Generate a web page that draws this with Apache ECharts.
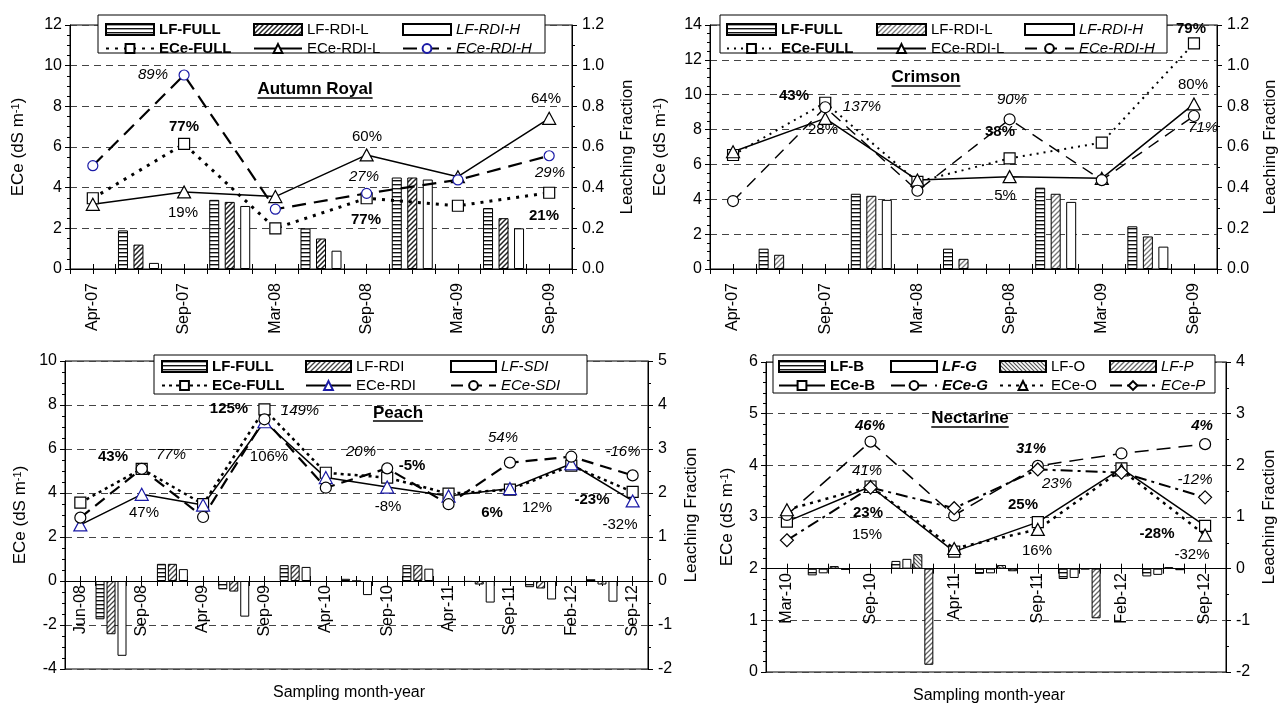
<!DOCTYPE html>
<html><head><meta charset="utf-8">
<script src="https://cdn.jsdelivr.net/npm/echarts@6/dist/echarts.min.js"></script>
<style>html,body{margin:0;padding:0;background:#fff}#c{width:1280px;height:707px}</style>
</head><body><div id="c"></div>
<script>
// ---------------- DATA ----------------
const arDates = ['Apr-07','Sep-07','Mar-08','Sep-08','Mar-09','Sep-09'];
const arEceFull = [3.48, 6.15, 2.00, 3.48, 3.11, 3.75];
const arEceRdiL = [3.18, 3.79, 3.56, 5.61, 4.54, 7.41];
const arEceRdiH = [5.08, 9.54, 2.94, 3.72, 4.38, 5.57];
const arLfFull = [0.19, 0.34, 0.20, 0.45, 0.30];
const arLfRdiL = [0.12, 0.33, 0.15, 0.45, 0.25];
const arLfRdiH = [0.03, 0.31, 0.09, 0.44, 0.20];

const crDates = ['Apr-07','Sep-07','Mar-08','Sep-08','Mar-09','Sep-09'];
const crEceFull = [6.54, 9.54, 5.00, 6.35, 7.25, 12.95];
const crEceRdiL = [6.73, 8.64, 5.10, 5.30, 5.20, 9.47];
const crEceRdiH = [3.90, 9.28, 4.49, 8.59, 5.10, 8.78];
const crLfFull = [0.10, 0.37, 0.10, 0.40, 0.21];
const crLfRdiL = [0.07, 0.36, 0.05, 0.37, 0.16];
const crLfRdiH = [null, 0.34, null, 0.33, 0.11];

const peDates = ['Jun-08','Sep-08','Apr-09','Sep-09','Apr-10','Sep-10','Apr-11','Sep-11','Feb-12','Sep-12'];
const peEceFull = [3.56, 5.10, 3.49, 7.80, 4.92, 4.70, 3.97, 4.15, 5.24, 4.05];
const peEceRdi  = [2.55, 3.94, 3.45, 7.24, 4.70, 4.27, 3.86, 4.20, 5.33, 3.64];
const peEceSdi  = [2.88, 5.10, 2.91, 7.35, 4.24, 5.12, 3.49, 5.38, 5.65, 4.80];
const peLfFull = [-0.87, 0.39, -0.19, 0.36, 0.05, 0.36, -0.02, -0.14, 0.04];
const peLfRdi  = [-1.21, 0.39, -0.24, 0.36, 0.00, 0.36, -0.08, -0.17, -0.08];
const peLfSdi  = [-1.70, 0.27, -0.81, 0.32, -0.32, 0.28, -0.49, -0.42, -0.47];

const neDates = ['Mar-10','Sep-10','Apr-11','Sep-11','Feb-12','Sep-12'];
const neEceB = [2.91, 3.59, 2.33, 2.90, 3.94, 2.83];
const neEceG = [3.04, 4.46, 3.03, 3.99, 4.23, 4.41];
const neEceO = [3.14, 3.59, 2.39, 2.76, 3.91, 2.65];
const neEceP = [2.55, 3.57, 3.17, 3.92, 3.86, 3.38];
const neLfB = [-0.13, 0.15, -0.10, -0.20, -0.15];
const neLfG = [-0.09, 0.19, -0.09, -0.18, -0.12];
const neLfO = [0.05, 0.28, 0.07, -0.01, 0.03];
const neLfP = [-0.02, -1.86, -0.05, -0.96, -0.03];

// annotation texts: [panel, text, style, x, y]
const notes = [
  [0,'89%','i',153,75],[0,'77%','b',184,127],[0,'19%','n',183,213],[0,'60%','n',367,137],
  [0,'27%','i',364,177],[0,'77%','b',366,220],[0,'64%','n',546,99],[0,'29%','i',550,173],[0,'21%','b',544,216],
  [1,'43%','b',794,96],[1,'137%','i',862,107],[1,'28%','n',823,130],[1,'90%','i',1012,100],
  [1,'38%','b',1000,132],[1,'5%','n',1005,196],[1,'79%','b',1191,29],[1,'80%','n',1193,85],[1,'71%','i',1203,128],
  [2,'43%','b',113,457],[2,'77%','i',171,455],[2,'47%','n',144,513],[2,'125%','b',229,409],[2,'149%','i',300,411],
  [2,'106%','n',269,457],[2,'20%','i',361,452],[2,'-5%','b',412,466],[2,'-8%','n',388,507],[2,'54%','i',503,438],
  [2,'6%','b',492,513],[2,'12%','n',537,508],[2,'-23%','b',592,500],[2,'-16%','i',623,452],[2,'-32%','n',620,525],
  [3,'46%','bi',870,426],[3,'41%','i',867,471],[3,'23%','b',868,513],[3,'15%','n',867,535],[3,'31%','bi',1031,449],
  [3,'23%','i',1057,484],[3,'25%','b',1023,505],[3,'16%','n',1037,551],[3,'4%','bi',1202,426],[3,'-12%','i',1195,480],
  [3,'-28%','b',1157,534],[3,'-32%','n',1192,555]
];

// ---------------- STYLE HELPERS ----------------
const FONT = '"Liberation Sans", Arial, Helvetica, sans-serif';
function mkCanvas(w,h,draw){const c=document.createElement('canvas');c.width=w;c.height=h;const g=c.getContext('2d');g.fillStyle='#fff';g.fillRect(0,0,w,h);draw(g,w,h);return c;}
function stripes(color){return {image: mkCanvas(8,4,(g)=>{g.fillStyle=color;g.fillRect(0,0,8,1.4);}), repeat:'repeat'};}
function hatch(color, back, step, lw){
  return {image: mkCanvas(step,step,(g,w,h)=>{g.strokeStyle=color;g.lineWidth=lw||1.3;g.beginPath();
    if(!back){g.moveTo(-1,h+1);g.lineTo(w+1,-1);g.moveTo(-2,2);g.lineTo(2,-2);g.moveTo(w-2,h+2);g.lineTo(w+2,h-2);}
    else {g.moveTo(-1,-1);g.lineTo(w+1,h+1);g.moveTo(w-2,-2);g.lineTo(w+2,2);g.moveTo(-2,h-2);g.lineTo(2,h+2);}
    g.stroke();}), repeat:'repeat'};
}
const WHITE = '#fff';
function txtStyle(s){return {fontWeight: s.indexOf('b')>=0?'bold':'normal', fontStyle: s.indexOf('i')>=0?'italic':'normal'};}
function fontStr(s,size){const t=txtStyle(s);return t.fontStyle+' '+t.fontWeight+' '+size+'px '+FONT;}

const panels = [
 { dates: arDates, grid:{left:70,top:25,width:502,height:244}, rightFirst:false,
   yL:{min:0,max:12,interval:2,minor:4,gap:43}, yR:{min:0,max:1.2,interval:0.2,minor:2,dec:1,gap:47},
   labelMargin:14, barWidth:10, barGap:'55%',
   bars:[{name:'LF-FULL',data:arLfFull,fill:stripes('#111'),lg:'b'},
         {name:'LF-RDI-L',data:arLfRdiL,fill:hatch('#222',false,5,1.5),lg:'n'},
         {name:'LF-RDI-H',data:arLfRdiH,fill:WHITE,lg:'i'}],
   lines:[{name:'ECe-FULL',data:arEceFull,symbol:'rect',size:[11,11],type:[3,6],width:3,border:'#000',lg:'b'},
          {name:'ECe-RDI-L',data:arEceRdiL,symbol:'triangle',size:[13,12],type:'solid',width:1.5,border:'#000',lg:'n'},
          {name:'ECe-RDI-H',data:arEceRdiH,symbol:'circle',size:10,type:[14,8],width:2.2,border:'#1a1aa6',lg:'i'}],
   legX:[105,253,402], legTop:22, iconW:48, box:[98,15,545,53],
   title:['Autumn Royal',315,89,98] },
 { dates: crDates, grid:{left:710,top:25,width:507,height:244}, rightFirst:false,
   yL:{min:0,max:14,interval:2,minor:4,gap:41}, yR:{min:0,max:1.2,interval:0.2,minor:2,dec:1,gap:45},
   labelMargin:14, barWidth:10, barGap:'55%',
   bars:[{name:'LF-FULL',data:crLfFull,fill:stripes('#111'),lg:'b'},
         {name:'LF-RDI-L',data:crLfRdiL,fill:hatch('#777',false,5,1.3),lg:'n'},
         {name:'LF-RDI-H',data:crLfRdiH,fill:WHITE,lg:'i'}],
   lines:[{name:'ECe-FULL',data:crEceFull,symbol:'rect',size:[11,11],type:[2,5],width:2,border:'#000',lg:'b'},
          {name:'ECe-RDI-L',data:crEceRdiL,symbol:'triangle',size:[13,12],type:'solid',width:1.5,border:'#000',lg:'n'},
          {name:'ECe-RDI-H',data:crEceRdiH,symbol:'circle',size:11,type:[12,8],width:1.4,border:'#000',lg:'i'}],
   legX:[726,876,1024], legTop:22, iconW:49, box:[720,15,1167,53],
   title:['Crimson',926,77,86] },
 { dates: peDates, grid:{left:65,top:361,width:583,height:308}, rightFirst:false,
   yL:{min:-4,max:10,interval:2,minor:4,gap:36}, yR:{min:-2,max:5,interval:1,minor:2,dec:0,gap:35},
   labelMargin:-84, barWidth:9, barGap:'22%',
   bars:[{name:'LF-FULL',data:peLfFull,fill:stripes('#111'),lg:'b'},
         {name:'LF-RDI',data:peLfRdi,fill:hatch('#444',false,5,1.3),lg:'n'},
         {name:'LF-SDI',data:peLfSdi,fill:WHITE,lg:'i'}],
   lines:[{name:'ECe-FULL',data:peEceFull,symbol:'rect',size:[11,11],type:[3,4],width:2.5,border:'#000',lg:'b'},
          {name:'ECe-RDI',data:peEceRdi,symbol:'triangle',size:[13,12],type:'solid',width:1.5,border:'#1a1aa6',lg:'n'},
          {name:'ECe-SDI',data:peEceSdi,symbol:'circle',size:11,type:[12,7],width:2.2,border:'#000',lg:'i'}],
   legX:[161,305,450], legTop:359, iconW:45, box:[154,355,587,394],
   title:['Peach',398,413,421], xname:[349,693] },
 { dates: neDates, grid:{left:766,top:362,width:460,height:310}, rightFirst:true,
   yL:{min:0,max:6,interval:1,minor:5,gap:30}, yR:{min:-2,max:4,interval:1,minor:2,dec:0,gap:35},
   labelMargin:-99, barWidth:9, barGap:'22%',
   bars:[{name:'LF-B',data:neLfB,fill:stripes('#111'),lg:'b'},
         {name:'LF-G',data:neLfG,fill:WHITE,lg:'bi'},
         {name:'LF-O',data:neLfO,fill:hatch('#555',true,4,1.2),lg:'n'},
         {name:'LF-P',data:neLfP,fill:hatch('#666',false,5,1.3),lg:'i'}],
   lines:[{name:'ECe-B',data:neEceB,symbol:'rect',size:[11,11],type:'solid',width:1.5,border:'#000',lg:'b'},
          {name:'ECe-G',data:neEceG,symbol:'circle',size:11,type:[14,8],width:1.5,border:'#000',lg:'bi'},
          {name:'ECe-O',data:neEceO,symbol:'triangle',size:[13,12],type:[3,5],width:2.5,border:'#000',lg:'n'},
          {name:'ECe-P',data:neEceP,symbol:'diamond',size:[13,13],type:[12,5,3,5],width:2,border:'#000',lg:'i'}],
   legX:[778,890,999,1109], legTop:359, iconW:46, box:[773,355,1215,393],
   title:['Nectarine',970,418,427], xname:[989,696] }
];

// ---------------- BUILD ----------------
const nSlots = n => 4*(n-1)+3;
function place(arr, n, off){const out=new Array(nSlots(n)).fill(null);arr.forEach((v,i)=>{out[off+4*i]=v;});return out;}

const grid=[], xAxis=[], yAxis=[], series=[], legend=[], graphic=[];
const measure = document.createElement('canvas').getContext('2d');
const tickAxes = [];

panels.forEach((p,k)=>{
  const tag = '\u200b'.repeat(k);
  const n = p.dates.length;
  grid.push(Object.assign({show:true, borderColor:'#000', borderWidth:1, backgroundColor:'transparent', containLabel:false, outerBoundsMode:'none'}, p.grid));
  const cats = Array.from({length:nSlots(n)},(_,i)=> (i%4===1)? p.dates[(i-1)/4] : '_'+i);
  xAxis.push({type:'category', gridIndex:k, data:cats, boundaryGap:false, position:'bottom',
    axisLine:{onZero:true, lineStyle:{color:'#000',width:1}},
    axisTick:{interval:0, length:5, lineStyle:{color:'#000'}},
    axisLabel:{interval:0, rotate:90, margin:p.labelMargin, fontSize:16, color:'#000', fontFamily:FONT, hideOverlap:false,
      formatter:v=> v.charAt(0)==='_' ? '' : v},
    splitLine:{show:false}});
  const mkY = (c, pos, isLeft) => ({type:'value', gridIndex:k, position:pos, min:c.min, max:c.max, interval:c.interval,
    axisLine:{show:true, onZero:false, lineStyle:{color:'#000'}},
    axisTick:{show:true, length:5, lineStyle:{color:'#000'}},
    minorTick:{show:true, splitNumber:c.minor, length:3, lineStyle:{color:'#000'}},
    axisLabel:{fontSize:16, color:'#000', fontFamily:FONT, margin: isLeft?8:10,
      formatter: v => c.dec ? v.toFixed(c.dec) : String(Math.round(v))},
    splitLine:{show:isLeft, lineStyle:{color:'#444', type:[7,5], width:1}},
    name: isLeft ? 'ECe (dS m{sup|-1})' : 'Leaching Fraction',
    nameLocation:'middle', nameGap:c.gap, nameRotate:90, nameMoveOverlap:false,
    nameTextStyle:{fontSize:17, color:'#000', fontFamily:FONT,
      rich:{sup:{fontSize:11, color:'#000', fontFamily:FONT, verticalAlign:'top', lineHeight:17}}}});
  let li, ri;
  if (p.rightFirst){ ri=yAxis.length; yAxis.push(mkY(p.yR,'right',false)); li=yAxis.length; yAxis.push(mkY(p.yL,'left',true)); }
  else { li=yAxis.length; yAxis.push(mkY(p.yL,'left',true)); ri=yAxis.length; yAxis.push(mkY(p.yR,'right',false)); }
  // second axis only for inward ticks (ticks cross the axis line)
  tickAxes.push({type:'category', gridIndex:k, data:cats, boundaryGap:false, position:'bottom',
    axisLine:{show:false, onZero:true, onZeroAxisIndex: p.rightFirst ? ri : li},
    axisTick:{show:true, inside:true, interval:0, length:5, lineStyle:{color:'#000'}},
    axisLabel:{show:false}, splitLine:{show:false}});

  p.bars.forEach(b=>{
    series.push({type:'bar', name:b.name+tag, xAxisIndex:k, yAxisIndex:ri, data:place(b.data,n,3),
      barWidth:p.barWidth, barGap:p.barGap, silent:true, z:2,
      itemStyle:{color:b.fill, borderColor:'#000', borderWidth:1}});
  });
  p.lines.forEach(l=>{
    series.push({type:'line', name:l.name+tag, xAxisIndex:k, yAxisIndex:li, data:place(l.data,n,1),
      connectNulls:true, symbol:l.symbol, symbolSize:l.size, showSymbol:true, silent:true, z:3,
      lineStyle:{color:'#000', width:l.width, type:l.type},
      itemStyle:{color:'#fff', borderColor:l.border, borderWidth:1.2}});
  });
  p.bars.forEach((b,c)=>{
    const l = p.lines[c];
    legend.push({orient:'vertical', left:p.legX[c], top:p.legTop, itemWidth:p.iconW, itemHeight:11, itemGap:4, padding:0,
      selectedMode:false, z:6,
      textStyle:{fontSize:15, color:'#000', fontFamily:FONT, lineHeight:14},
      formatter: nm => nm.replace(/\u200b/g,''),
      data:[{name:b.name+tag, icon:'rect', textStyle:txtStyle(b.lg)}, {name:l.name+tag, textStyle:txtStyle(l.lg)}]});
  });
  const bx=p.box;
  graphic.push({type:'rect', z:5, shape:{x:bx[0],y:bx[1],width:bx[2]-bx[0],height:bx[3]-bx[1]}, style:{fill:'#fff',stroke:'#000',lineWidth:1}});
  const t=p.title, tf='bold 17px '+FONT;
  measure.font=tf; const tw=measure.measureText(t[0]).width;
  graphic.push({type:'text', z:7, x:t[1], y:t[2], style:{text:t[0], font:tf, fill:'#000', align:'center', verticalAlign:'middle', textAlign:'center', textVerticalAlign:'middle'}});
  graphic.push({type:'line', z:7, shape:{x1:t[1]-tw/2, y1:t[3], x2:t[1]+tw/2, y2:t[3]}, style:{stroke:'#000', lineWidth:1.6}});
  if (p.xname){
    graphic.push({type:'text', z:7, x:p.xname[0], y:p.xname[1], style:{text:'Sampling month-year', font:'16px '+FONT, fill:'#000', align:'center', verticalAlign:'middle', textAlign:'center', textVerticalAlign:'middle'}});
  }
});
tickAxes.forEach(a=>xAxis.push(a));

notes.forEach(a=>{
  graphic.push({type:'text', z:8, x:a[3], y:a[4], style:{text:a[1], font:fontStr(a[2],15), fill:'#000', align:'center', verticalAlign:'middle', textAlign:'center', textVerticalAlign:'middle'}});
});

const chart = echarts.init(document.getElementById('c'), null, {renderer:'canvas', width:1280, height:707});
chart.setOption({backgroundColor:'#fff', animation:false, textStyle:{fontFamily:FONT},
  grid, xAxis, yAxis, series, legend, graphic});
</script></body></html>
